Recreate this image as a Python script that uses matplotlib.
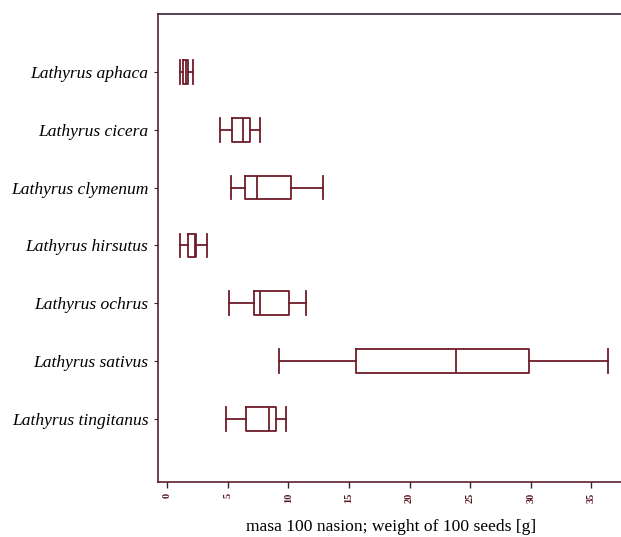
import matplotlib
matplotlib.use("Agg")
import matplotlib.pyplot as plt

species = ["Lathyrus aphaca", "Lathyrus cicera", "Lathyrus clymenum", "Lathyrus hirsutus",
           "Lathyrus ochrus", "Lathyrus sativus", "Lathyrus tingitanus"]
whisk_lo = [1.1, 4.35, 5.3, 1.1, 5.15, 9.2, 4.85]
q1 = [1.35, 5.4, 6.45, 1.7, 7.2, 15.6, 6.5]
median = [1.6, 6.25, 7.4, 2.3, 7.7, 23.8, 8.4]
q3 = [1.75, 6.85, 10.25, 2.4, 10.05, 29.85, 9.0]
whisk_hi = [2.15, 7.65, 12.9, 3.3, 11.45, 36.4, 9.85]
xticks = [0, 5, 10, 15, 20, 25, 30, 35]
xlabel = "masa 100 nasion; weight of 100 seeds [g]"

line_col = "#6e1c28"
spine_col = "#3b2233"

fig = plt.figure(figsize=(6.21, 5.37), dpi=100)
ax = fig.add_axes([0.2544, 0.1024, 0.752, 0.8716])

stats = []
for i in range(len(species)):
    stats.append(dict(label=species[i], whislo=whisk_lo[i], q1=q1[i], med=median[i],
                      q3=q3[i], whishi=whisk_hi[i], fliers=[]))
positions = list(range(1, len(species) + 1))
props = dict(color=line_col, linewidth=1.3)
ax.bxp(stats, positions=positions, vert=False, widths=0.41, showfliers=False,
       boxprops=props, medianprops=props, whiskerprops=props,
       capprops=dict(color=line_col, linewidth=1.3), capwidths=0.41)

ax.set_ylim(8.09, 0.0)
ax.set_xlim(-0.74, 37.76)
ax.set_yticks(positions)
ax.set_yticklabels(species, fontfamily="Liberation Serif", fontstyle="italic", fontsize=12.6)
ax.set_xticks(xticks)
ax.set_xticklabels([str(t) for t in xticks], rotation=90, fontfamily="Liberation Serif",
                   fontsize=7.5, fontweight="bold", color="#5a1a25")
ax.tick_params(axis="x", length=4, width=1, color=spine_col, pad=4)
ax.tick_params(axis="y", length=3, width=0.8, color=spine_col, pad=4)
ax.set_xlabel(xlabel, fontfamily="Liberation Serif", fontsize=12.6, labelpad=11)
for s in ax.spines.values():
    s.set_color(spine_col)
    s.set_linewidth(1.2)
ax.spines["left"].set_color("#5a1f2b")
ax.spines["bottom"].set_color("#5a1f2b")

fig.savefig("out.png", dpi=100)
